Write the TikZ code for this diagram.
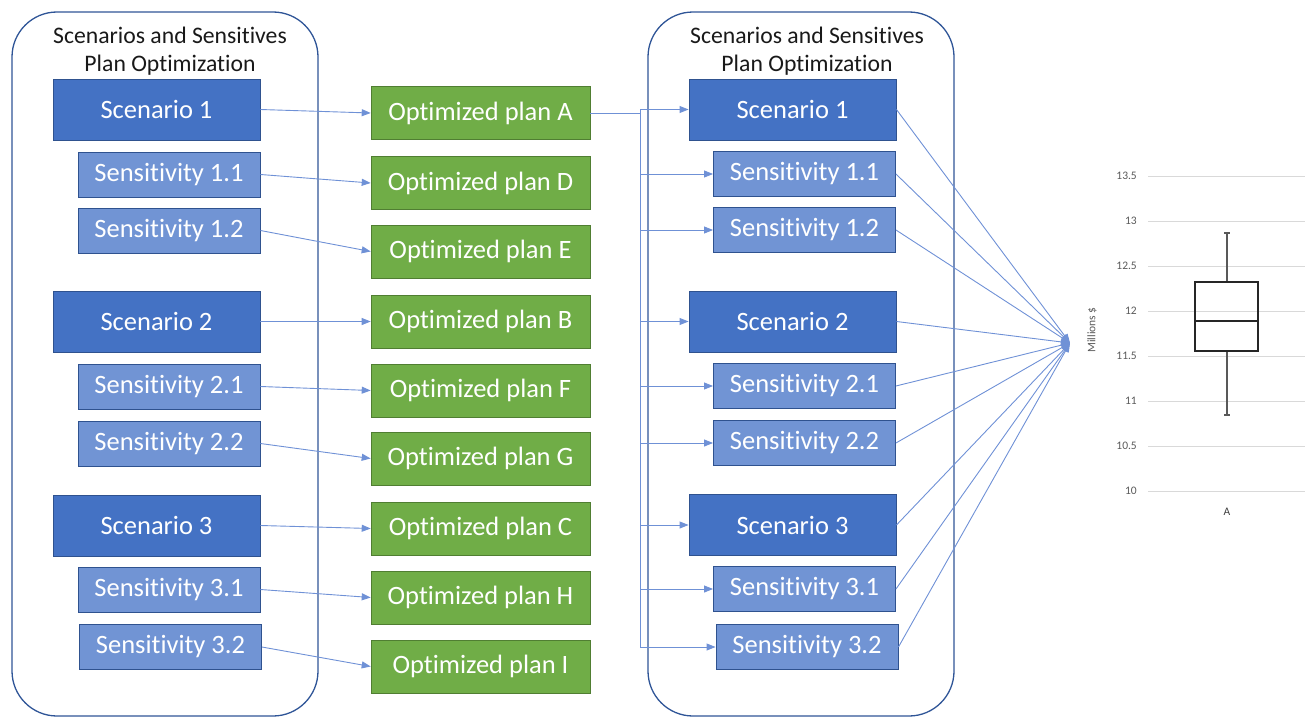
\documentclass[tikz,border=0pt]{standalone}
\usepackage{fontspec}
\setmainfont{Carlito}[Ligatures={NoCommon,NoRequired,NoContextual}]
\usetikzlibrary{arrows.meta}
\definecolor{scen}{HTML}{4472C4}
\definecolor{sens}{HTML}{7194D4}
\definecolor{bord}{HTML}{2F528F}
\definecolor{grn}{HTML}{70AD47}
\definecolor{grnb}{HTML}{507E32}
\definecolor{conn}{HTML}{6F91D6}
\definecolor{frame}{HTML}{2F5597}
\definecolor{grid}{HTML}{D9D9D9}
\definecolor{axtxt}{HTML}{595959}
\tikzset{
  boxtxt/.style={text=white,font=\fontsize{26.5}{30}\selectfont,inner sep=0pt,line width=0.9pt},
  scenbox/.style={boxtxt,fill=scen,draw=bord,minimum width=207pt,minimum height=61pt},
  sensbox/.style={boxtxt,fill=sens,draw=bord,minimum width=182pt,minimum height=45pt},
  planbox/.style={boxtxt,fill=grn,draw=grnb,line width=0.6pt,minimum width=219pt,minimum height=53pt},
  link/.style={draw=conn,line width=0.9pt},
  linkarr/.style={link,-{Triangle[length=9pt,width=7pt]}},
  framebox/.style={draw=frame,line width=1.3pt,rounded corners=45pt},
  header/.style={font=\fontsize{23.7}{28.5}\selectfont,align=center,text=black!90,inner sep=0pt},
  ticklbl/.style={font=\fontsize{11.5}{13}\selectfont,text=axtxt,anchor=east,inner sep=0pt}
}
\begin{document}
\begin{tikzpicture}[x=1pt,y=-1pt]
\useasboundingbox (0,0) rectangle (1308,717);
% frames
\draw[framebox] (12,12) rectangle (318,716);
\draw[framebox] (648,12) rectangle (954,716);
\node[header] (hL) at (170,51) {Scenarios and Sensitives\\Plan Optimization};
\node[header] (hR) at (807,51) {Scenarios and Sensitives\\Plan Optimization};
% left column
\node[scenbox] (L1) at (156.5,109.5) {Scenario 1};
\node[sensbox] (L11) at (169,174.5) {Sensitivity 1.1};
\node[sensbox] (L12) at (169,230.5) {Sensitivity 1.2};
\node[scenbox] (L2) at (156.5,321.5) {Scenario 2};
\node[sensbox] (L21) at (169,386.5) {Sensitivity 2.1};
\node[sensbox] (L22) at (169,443.5) {Sensitivity 2.2};
\node[scenbox] (L3) at (156.5,525.5) {Scenario 3};
\node[sensbox] (L31) at (169,589.5) {Sensitivity 3.1};
\node[sensbox] (L32) at (170.5,647) {Sensitivity 3.2};
% plans
\node[planbox] (PA) at (480.5,113) {Optimized plan A};
\node[planbox] (PD) at (480.5,183) {Optimized plan D};
\node[planbox] (PE) at (480.5,251.5) {Optimized plan E};
\node[planbox] (PB) at (480.5,321.5) {Optimized plan B};
\node[planbox] (PF) at (480.5,390.5) {Optimized plan F};
\node[planbox] (PG) at (480.5,458.5) {Optimized plan G};
\node[planbox] (PC) at (480.5,528.5) {Optimized plan C};
\node[planbox] (PH) at (480.5,597.5) {Optimized plan H};
\node[planbox] (PI) at (480.5,666.5) {Optimized plan I};
% right column
\node[scenbox] (R1) at (792.5,109.5) {Scenario 1};
\node[sensbox] (R11) at (804.5,174) {Sensitivity 1.1};
\node[sensbox] (R12) at (804.5,230) {Sensitivity 1.2};
\node[scenbox] (R2) at (792.5,321.5) {Scenario 2};
\node[sensbox] (R21) at (804.5,386) {Sensitivity 2.1};
\node[sensbox] (R22) at (804.5,443) {Sensitivity 2.2};
\node[scenbox] (R3) at (792.5,525) {Scenario 3};
\node[sensbox] (R31) at (804.5,589) {Sensitivity 3.1};
\node[sensbox] (R32) at (807,647) {Sensitivity 3.2};
% left -> plans
\draw[linkarr] (L1.east) -- (PA.west);
\draw[linkarr] (L11.east) -- (PD.west);
\draw[linkarr] (L12.east) -- (PE.west);
\draw[linkarr] (L2.east) -- (PB.west);
\draw[linkarr] (L21.east) -- (PF.west);
\draw[linkarr] (L22.east) -- (PG.west);
\draw[linkarr] (L3.east) -- (PC.west);
\draw[linkarr] (L31.east) -- (PH.west);
\draw[linkarr] (L32.east) -- (PI.west);
% bus from plan A
\coordinate (bus) at (640,113);
\draw[link] (PA.east) -- (bus);
\foreach \t in {R1,R11,R12,R2,R21,R22,R3,R31,R32}{
  \draw[linkarr] (bus) |- (\t.west);
}
% to chart
\coordinate (hub) at (1070,343);
\foreach \t in {R1,R11,R12,R2,R21,R22,R3,R31,R32}{
  \draw[linkarr] (\t.east) -- (hub);
}
% chart
\foreach \v/\lbl in {10/10,10.5/10.5,11/11,11.5/11.5,12/12,12.5/12.5,13/13,13.5/13.5}{
  \draw[grid,line width=1pt] (1148,{491-(\v-10)*90}) -- (1305,{491-(\v-10)*90});
  \node[ticklbl] at (1137,{491-(\v-10)*90}) {\lbl};
}
\node[font=\fontsize{11.5}{13}\selectfont,text=axtxt,rotate=90,inner sep=0pt] (ylab) at (1092,330) {Millions \$};
\draw[axtxt,line width=1.2pt] (1227,233) -- (1227,282) (1224,233) -- (1230,233);
\draw[axtxt,line width=1.2pt] (1227,351) -- (1227,415) (1224,415) -- (1230,415);
\draw[black!85,line width=1.5pt] (1195,282) rectangle (1258,351);
\draw[black!85,line width=1.5pt] (1195,321) -- (1258,321);
\node[font=\fontsize{11.5}{13}\selectfont,text=black!75,inner sep=0pt] (xlab) at (1227,512) {A};
\end{tikzpicture}
\end{document}
